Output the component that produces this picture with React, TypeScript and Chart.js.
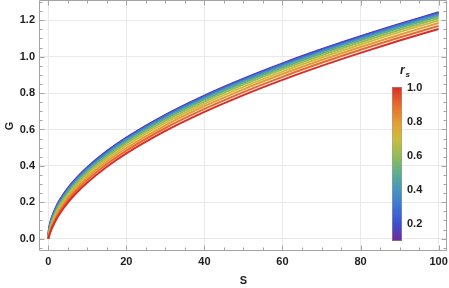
import React, { useEffect, useRef } from "react";
import { Chart, registerables } from "chart.js";

Chart.register(...registerables);

// ---------- data ----------
const sValues = [0, 0.1, 0.5, 1, 2, 3, 5, 7, 10, 15, 20, 30, 40, 50, 60, 70, 80, 90, 100];

const rValues = [0.1, 0.2, 0.3, 0.4, 0.5, 0.6, 0.7, 0.8, 0.9, 1.0];

const gR01 = [0, 0.0384, 0.0871, 0.1235, 0.1751, 0.2147, 0.2774, 0.3284, 0.3927, 0.4812, 0.5558, 0.6809, 0.7864, 0.8794, 0.9634, 1.0407, 1.1126, 1.1801, 1.244];
const gR02 = [0, 0.0357, 0.0843, 0.1207, 0.1722, 0.2118, 0.2745, 0.3256, 0.3899, 0.4783, 0.5529, 0.6781, 0.7836, 0.8765, 0.9605, 1.0378, 1.1097, 1.1772, 1.2411];
const gR03 = [0, 0.0316, 0.0798, 0.1161, 0.1676, 0.2071, 0.2698, 0.3208, 0.3851, 0.4736, 0.5482, 0.6733, 0.7788, 0.8717, 0.9557, 1.033, 1.1049, 1.1725, 1.2363];
const gR04 = [0, 0.0269, 0.0739, 0.11, 0.1613, 0.2008, 0.2634, 0.3143, 0.3786, 0.467, 0.5416, 0.6667, 0.7721, 0.865, 0.9491, 1.0263, 1.0982, 1.1658, 1.2297];
const gR05 = [0, 0.0221, 0.0672, 0.1027, 0.1536, 0.1929, 0.2553, 0.3062, 0.3703, 0.4587, 0.5332, 0.6582, 0.7637, 0.8566, 0.9406, 1.0178, 1.0897, 1.1572, 1.2211];
const gR06 = [0, 0.0178, 0.0599, 0.0945, 0.1447, 0.1837, 0.2458, 0.2965, 0.3605, 0.4487, 0.5231, 0.6481, 0.7534, 0.8463, 0.9303, 1.0075, 1.0794, 1.1469, 1.2108];
const gR07 = [0, 0.0142, 0.0526, 0.0859, 0.135, 0.1735, 0.2351, 0.2855, 0.3493, 0.4372, 0.5115, 0.6363, 0.7415, 0.8343, 0.9183, 0.9954, 1.0673, 1.1348, 1.1986];
const gR08 = [0, 0.0115, 0.0458, 0.0772, 0.1248, 0.1626, 0.2234, 0.2734, 0.3368, 0.4244, 0.4984, 0.623, 0.7281, 0.8208, 0.9046, 0.9817, 1.0535, 1.121, 1.1848];
const gR09 = [0, 0.0094, 0.0396, 0.0688, 0.1145, 0.1512, 0.211, 0.2604, 0.3232, 0.4103, 0.4841, 0.6082, 0.7131, 0.8057, 0.8894, 0.9664, 1.0381, 1.1055, 1.1693];
const gR10 = [0, 0.0077, 0.0341, 0.061, 0.1043, 0.1398, 0.1981, 0.2467, 0.3089, 0.3953, 0.4686, 0.5922, 0.6968, 0.7891, 0.8727, 0.9496, 1.0212, 1.0886, 1.1522];

const gSeries = [gR01, gR02, gR03, gR04, gR05, gR06, gR07, gR08, gR09, gR10];

const lineColors = [
  "rgb(112,42,152)",
  "rgb(62,78,210)",
  "rgb(62,116,212)",
  "rgb(72,150,190)",
  "rgb(96,174,140)",
  "rgb(150,188,86)",
  "rgb(204,188,62)",
  "rgb(228,154,52)",
  "rgb(230,104,45)",
  "rgb(220,44,38)",
];

const xTickValues = [0, 20, 40, 60, 80, 100];
const yTickValues = [0, 0.2, 0.4, 0.6, 0.8, 1.0, 1.2];
const cbTickValues = [0.2, 0.4, 0.6, 0.8, 1.0];
const cbMin = 0.1;
const cbMax = 1.0;

const xTitle = "S";
const yTitle = "G";

// ---------- style constants ----------
const FONT = "'Liberation Sans', Arial, sans-serif";
const TEXT = "#1e1e1e";
const FRAME = "#a3a3a3";

const framePlugin = {
  id: "framePlugin",
  afterDatasetsDraw(chart: any) {
    const ctx = chart.ctx;
    const { left, right, top, bottom } = chart.chartArea;
    const xs = chart.scales.x;
    const ys = chart.scales.y;
    ctx.save();
    ctx.strokeStyle = FRAME;
    ctx.lineWidth = 1;
    const L = Math.round(left) - 0.5;
    const R = Math.round(right) - 0.5;
    const T = Math.round(top) + 0.5;
    const B = Math.round(bottom) - 0.5;
    ctx.beginPath();
    ctx.rect(L, T, R - L, B - T);
    ctx.stroke();

    // x ticks (major every 20, minor every 5)
    ctx.beginPath();
    for (let v = 0; v <= 100.001; v += 5) {
      const px = Math.round(xs.getPixelForValue(v)) + 0.5;
      if (px < L || px > R) continue;
      const len = v % 20 === 0 ? 5 : 3;
      ctx.moveTo(px, B);
      ctx.lineTo(px, B - len);
      ctx.moveTo(px, T);
      ctx.lineTo(px, T + len);
    }
    // y ticks (major every 0.2, minor every 0.05)
    for (let k = -2; k <= 26; k++) {
      const v = k * 0.05;
      const py = Math.round(ys.getPixelForValue(v)) + 0.5;
      if (py < T || py > B) continue;
      const len = k % 4 === 0 ? 5 : 3;
      ctx.moveTo(L, py);
      ctx.lineTo(L + len, py);
      ctx.moveTo(R, py);
      ctx.lineTo(R - len, py);
    }
    ctx.stroke();

    // axis titles
    ctx.fillStyle = TEXT;
    ctx.font = `bold 11px ${FONT}`;
    ctx.textAlign = "center";
    ctx.textBaseline = "middle";
    ctx.fillText(xTitle, 243.5, 281);
    ctx.save();
    ctx.translate(10, 126);
    ctx.rotate(-Math.PI / 2);
    ctx.fillText(yTitle, 0, 0);
    ctx.restore();

    // colour bar
    const cbL = 392, cbR = 402, cbT = 87, cbB = 241;
    const grad = ctx.createLinearGradient(0, cbB, 0, cbT);
    lineColors.forEach((c, i) => {
      grad.addColorStop((rValues[i] - cbMin) / (cbMax - cbMin), c);
    });
    ctx.fillStyle = grad;
    ctx.fillRect(cbL, cbT, cbR - cbL, cbB - cbT);
    ctx.strokeStyle = "rgba(160,160,160,0.5)";
    ctx.strokeRect(cbL + 0.5, cbT + 0.5, cbR - cbL - 1, cbB - cbT - 1);

    ctx.fillStyle = TEXT;
    ctx.font = `bold 11px ${FONT}`;
    ctx.textAlign = "left";
    ctx.textBaseline = "middle";
    cbTickValues.forEach((v) => {
      const py = cbB - ((v - cbMin) / (cbMax - cbMin)) * (cbB - cbT);
      ctx.fillText(v.toFixed(1), 407, py + 0.5);
    });

    // colour bar title r_s
    ctx.textBaseline = "alphabetic";
    ctx.font = `italic bold 12px ${FONT}`;
    ctx.fillText("r", 400, 74);
    ctx.font = `italic bold 8px ${FONT}`;
    ctx.fillText("s", 405.5, 76.5);
    ctx.restore();
  },
};

const zeroPad = (s: any) => {
  s.paddingTop = 0;
  s.paddingBottom = 0;
  s.paddingLeft = 0;
  s.paddingRight = 0;
};

export default function App() {
  const ref = useRef<HTMLCanvasElement | null>(null);

  useEffect(() => {
    if (!ref.current) return;
    const datasets = gSeries.map((arr, i) => ({
      label: `r_s = ${rValues[i]}`,
      data: sValues.map((s, j) => ({ x: s, y: arr[j] })),
      borderColor: lineColors[i],
      backgroundColor: lineColors[i],
      borderWidth: 2,
      pointRadius: 0,
      fill: false,
      cubicInterpolationMode: "monotone" as const,
      order: gSeries.length - 1 - i,
    }));

    const chart = new Chart(ref.current, {
      type: "line",
      data: { datasets },
      options: {
        animation: false,
        responsive: false,
        maintainAspectRatio: false,
        devicePixelRatio: 1,
        layout: { padding: { left: 0, right: 2, top: 0, bottom: 0 } },
        plugins: {
          legend: { display: false },
          tooltip: { enabled: false },
        },
        scales: {
          x: {
            type: "linear",
            min: -2.13,
            max: 102.15,
            afterBuildTicks: (s: any) => {
              s.ticks = xTickValues.map((v) => ({ value: v }));
            },
            afterFit: (s: any) => {
              s.height = 37;
              zeroPad(s);
            },
            ticks: {
              font: { family: FONT, size: 11, weight: "bold" },
              color: TEXT,
              padding: 4,
              maxRotation: 0,
              autoSkip: false,
              callback: (v: any) => String(v),
            },
            grid: { color: "#e9e9e9", drawTicks: false, lineWidth: 1 },
            border: { display: false },
          },
          y: {
            type: "linear",
            min: -0.0676,
            max: 1.3115,
            afterBuildTicks: (s: any) => {
              s.ticks = yTickValues.map((v) => ({ value: v }));
            },
            afterFit: (s: any) => {
              s.width = 40;
              zeroPad(s);
            },
            ticks: {
              font: { family: FONT, size: 11, weight: "bold" },
              color: TEXT,
              padding: 5,
              autoSkip: false,
              callback: (v: any) => Number(v).toFixed(1),
            },
            grid: { color: "#e9e9e9", drawTicks: false, lineWidth: 1 },
            border: { display: false },
          },
        },
      },
      plugins: [framePlugin],
    });
    return () => chart.destroy();
  }, []);

  return (
    <div style={{ position: "fixed", left: 0, top: 0, width: 449, height: 288, background: "#fff" }}>
      <canvas ref={ref} width={449} height={288} style={{ width: 449, height: 288, display: "block" }} />
    </div>
  );
}
